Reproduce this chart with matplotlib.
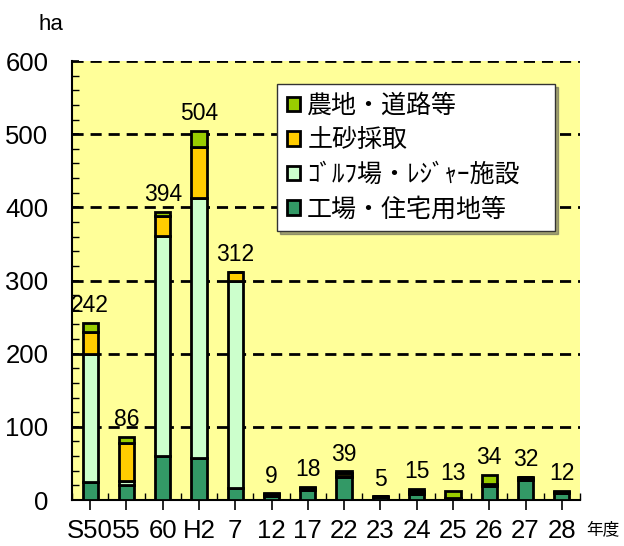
import numpy as np
import matplotlib
matplotlib.use('Agg')
import matplotlib.pyplot as plt
from matplotlib.ticker import MultipleLocator, FixedLocator

plt.rcParams['font.family'] = ['Liberation Sans', 'Noto Sans CJK JP']

# data (ha)
years = ['S50', '55', '60', 'H2', '7', '12', '17', '22', '23', '24', '25', '26', '27', '28']
factory = [25, 21, 60, 58, 17, 5, 14, 32, 4, 8, 2, 19, 28, 9]
golf = [175, 5, 301, 355, 283, 1, 2, 1, 1, 2, 1, 2, 2, 1]
soil = [29, 52, 27, 69, 12, 2, 1, 4, 0, 3, 0, 1, 1, 1]
agri = [13, 8, 6, 22, 0, 1, 1, 2, 0, 2, 10, 12, 1, 1]
totals = [242, 86, 394, 504, 312, 9, 18, 39, 5, 15, 13, 34, 32, 12]

names = ['工場・住宅用地等', 'ｺﾞﾙﾌ場・ﾚｼﾞｬｰ施設', '土砂採取', '農地・道路等']
colors = ['#339966', '#CCFFCC', '#FFCC00', '#99CC00']

fig = plt.figure(figsize=(6.24, 5.46), dpi=100)
ax = fig.add_axes([0.1154, 0.0842, 0.814, 0.804])
ax.set_facecolor('#FFFF99')

x = np.arange(len(years))
bottom = np.zeros(len(years))
bars = []
for vals, name, c in zip([factory, golf, soil, agri], names, colors):
    b = ax.bar(x, vals, 0.42, bottom=bottom, color=c, edgecolor='black',
               linewidth=2, label=name, zorder=3)
    bars.append(b)
    bottom += np.array(vals)

for xi, t in zip(x, totals):
    ax.text(xi, t + 8, str(t), ha='center', va='bottom', fontsize=16.5)

ax.set_xlim(-0.5, len(years) - 0.5)
ax.set_ylim(0, 600)
ax.set_yticks(range(0, 601, 100))
ax.yaxis.set_minor_locator(MultipleLocator(20))
ax.set_xticks(x)
ax.set_xticklabels(years)
ax.xaxis.set_minor_locator(FixedLocator(np.arange(-0.5, len(years), 1)))
ax.tick_params(axis='y', which='major', direction='in', length=5, width=1.2, labelsize=18.5, pad=17)
ax.tick_params(axis='y', which='minor', direction='in', length=5, width=1)
ax.tick_params(axis='x', which='major', direction='out', length=7, width=1.2, labelsize=18.5, pad=7)
ax.tick_params(axis='x', which='minor', direction='in', length=5, width=1)

for yv in range(100, 601, 100):
    ax.axhline(yv, color='black', linestyle=(0, (4, 2.5)), linewidth=2, zorder=1)

ax.spines['top'].set_visible(False)
ax.spines['right'].set_visible(False)
ax.spines['left'].set_linewidth(1.5)
ax.spines['bottom'].set_linewidth(1.5)

handles = bars[::-1]
leg = ax.legend(handles, names[::-1], loc='upper left', bbox_to_anchor=(0.404, 0.0, 0.547, 0.948),
                mode='expand', borderaxespad=0, fontsize=18, frameon=True, fancybox=False,
                shadow=True, handlelength=0.5, handleheight=0.5, handletextpad=0.3,
                labelspacing=0.42, borderpad=0.4, framealpha=1)
leg.get_frame().set_edgecolor('#333333')
leg.get_frame().set_linewidth(1)

fig.text(0.061, 0.955, 'ha', fontsize=16, ha='left', va='center')
fig.text(0.94, 0.03, '年度', fontsize=12, ha='left', va='center')

fig.savefig('out.png', dpi=100)
